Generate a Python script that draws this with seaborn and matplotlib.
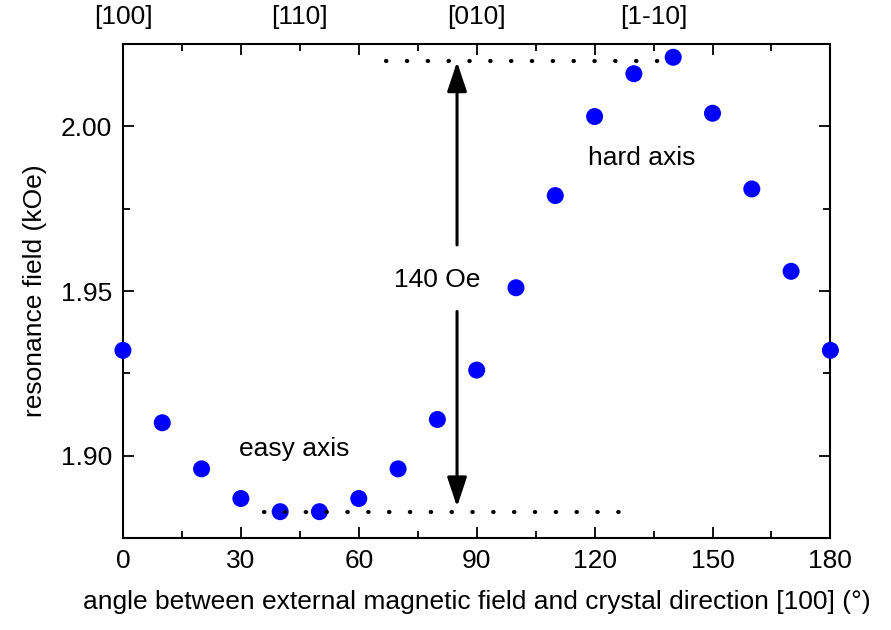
import matplotlib
matplotlib.use("Agg")
import matplotlib.pyplot as plt
import matplotlib.transforms as mtransforms
from matplotlib.ticker import MultipleLocator
import seaborn as sns
import pandas as pd

angles = [0, 10, 20, 30, 40, 50, 60, 70, 80, 90, 100, 110, 120, 130, 140, 150, 160, 170, 180]
field = [1.932, 1.910, 1.896, 1.887, 1.883, 1.883, 1.887, 1.896, 1.911, 1.926, 1.951,
         1.979, 2.003, 2.016, 2.021, 2.004, 1.981, 1.956, 1.932]
top_positions = [0, 45, 90, 135]
top_labels = ["[100]", "[110]", "[010]", "[1-10]"]
max_level = 2.020
min_level = 1.883

sns.set_style("ticks")
plt.rcParams['font.family'] = ['Liberation Sans', 'DejaVu Sans']
plt.rcParams['text.color'] = 'black'
plt.rcParams['axes.labelcolor'] = 'black'
plt.rcParams['xtick.color'] = 'black'
plt.rcParams['ytick.color'] = 'black'

FS = 19

df = pd.DataFrame({"angle": angles, "field": field})

fig = plt.figure(figsize=(8.91, 6.30), dpi=100)
ax = fig.add_axes([0.138, 0.146, 0.794, 0.784])

sns.scatterplot(data=df, x="angle", y="field", ax=ax, color=(0, 0, 1), s=150,
                edgecolor="none", zorder=3, legend=False, clip_on=False)

ax.set_xlim(0, 180)
ax.set_ylim(1.875, 2.025)
ax.xaxis.set_major_locator(MultipleLocator(30))
ax.xaxis.set_minor_locator(MultipleLocator(15))
ax.yaxis.set_major_locator(MultipleLocator(0.05))
ax.yaxis.set_minor_locator(MultipleLocator(0.025))
ax.yaxis.set_major_formatter(matplotlib.ticker.FormatStrFormatter('%.2f'))
ax.tick_params(which='both', direction='in', top=True, right=True, width=1.3,
               colors='black', labelcolor='black')
ax.tick_params(which='major', length=8, labelsize=FS, pad=8)
ax.tick_params(which='minor', length=5)
for sp in ax.spines.values():
    sp.set_visible(True)
    sp.set_linewidth(1.5)
    sp.set_color('black')

ax.set_xlabel("angle between external magnetic field and crystal direction [100] (°)",
              fontsize=FS, labelpad=12, color='black')
ax.set_ylabel("resonance field (kOe)", fontsize=FS, labelpad=10, color='black')

# dotted reference lines
ax.plot([67, 140], [max_level, max_level], color='black', lw=3.0,
        linestyle=(0, (0.1, 4.9)), dash_capstyle='round', zorder=4)
ax.plot([36, 127.5], [min_level, min_level], color='black', lw=3.0,
        linestyle=(0, (0.1, 4.9)), dash_capstyle='round', zorder=4)

# arrows
ap = dict(arrowstyle='-|>,head_length=0.9,head_width=0.3', lw=2.2, color='black',
          mutation_scale=20, shrinkA=0, shrinkB=0)
ax.annotate("", xy=(85, 2.0196), xytext=(85, 1.964), arrowprops=ap)
ax.annotate("", xy=(85, 1.8845), xytext=(85, 1.9438), arrowprops=ap)

ax.text(80, 1.9535, "140 Oe", fontsize=FS, ha='center', va='center', color='black')
ax.text(43.5, 1.902, "easy axis", fontsize=FS, ha='center', va='center', color='black')
ax.text(132, 1.9905, "hard axis", fontsize=FS, ha='center', va='center', color='black')

trans = mtransforms.blended_transform_factory(ax.transData, fig.transFigure)
for p, lab in zip(top_positions, top_labels):
    ax.text(p, 1 - 17 / 630, lab, fontsize=FS, ha='center', va='center',
            transform=trans, color='black')

fig.savefig("out.png", dpi=100)
